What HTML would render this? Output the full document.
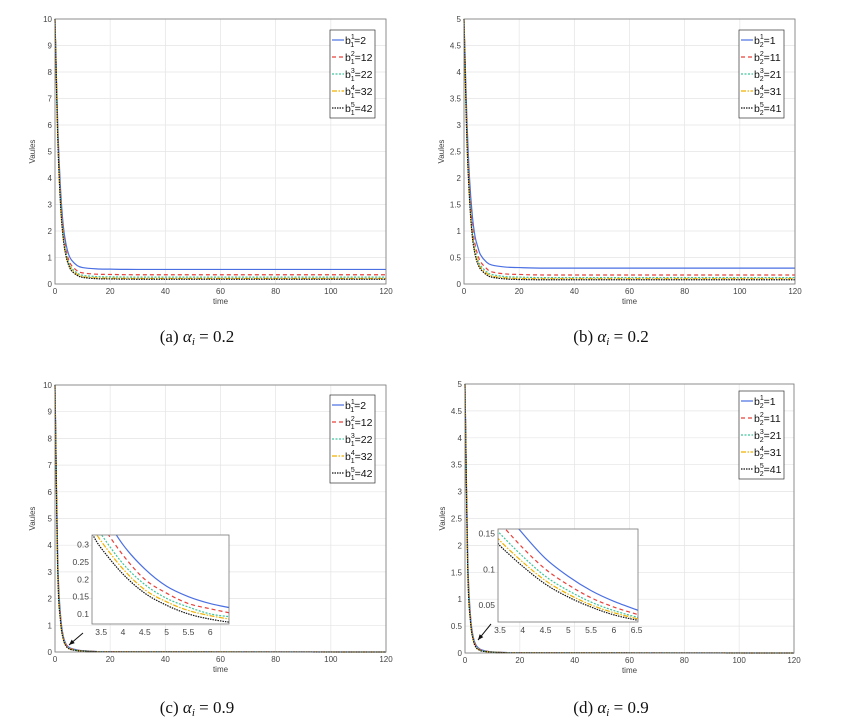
<!DOCTYPE html>
<html><head><meta charset="utf-8"><style>
body{margin:0;background:#fff;}
svg{display:block;font-family:"Liberation Sans",sans-serif;}
.cap{font-family:"Liberation Serif",serif;font-size:17px;}
</style></head><body>
<svg id="fig" width="851" height="724" viewBox="0 0 851 724"></svg>
<script>
const tA=[0,1,2,3,4,5,6,8,10,15,20,30,60,120];
const aBlue=[10,6,3.6,2.2,1.5,1.1,0.9,0.7,0.62,0.57,0.56,0.55,0.55,0.55];
const aRed=[10,5.8,3.3,2.0,1.3,0.9,0.7,0.5,0.42,0.37,0.36,0.35,0.35,0.35];
const aGreen=[10,5.7,3.2,1.9,1.2,0.8,0.6,0.42,0.33,0.28,0.27,0.26,0.26,0.26];
const aYellow=[10,5.6,3.1,1.8,1.1,0.75,0.55,0.37,0.28,0.23,0.22,0.21,0.21,0.21];
const aBlack=[10,5.5,3.0,1.7,1.05,0.7,0.5,0.33,0.25,0.2,0.19,0.18,0.18,0.18];
const bBlue=[5,3.2,2,1.3,0.9,0.7,0.55,0.42,0.36,0.32,0.31,0.3,0.3,0.3];
const bRed=[5,3.0,1.8,1.1,0.75,0.55,0.42,0.3,0.23,0.19,0.18,0.17,0.17,0.17];
const bGreen=[5,2.9,1.7,1.0,0.65,0.46,0.35,0.24,0.18,0.14,0.13,0.12,0.12,0.12];
const bYellow=[5,2.85,1.65,0.95,0.6,0.42,0.31,0.21,0.15,0.115,0.105,0.1,0.1,0.1];
const bBlack=[5,2.8,1.6,0.9,0.56,0.38,0.28,0.18,0.13,0.095,0.085,0.08,0.08,0.08];
const tC=[0,1,2,3,4,5,6,8,10,15,20,120];
const cBlue=[10,3.5,1.4,0.6,0.3,0.18,0.13,0.08,0.05,0.02,0.01,0];
const cRed=[10,3.3,1.3,0.55,0.27,0.16,0.115,0.07,0.045,0.018,0.009,0];
const cGreen=[10,3.2,1.25,0.52,0.25,0.145,0.1,0.06,0.04,0.015,0.008,0];
const cYellow=[10,3.1,1.2,0.5,0.24,0.135,0.095,0.055,0.036,0.014,0.007,0];
const cBlack=[10,3.0,1.15,0.48,0.22,0.125,0.085,0.05,0.033,0.013,0.006,0];
const dBlue=[5,1.8,0.7,0.3,0.15,0.09,0.06,0.035,0.02,0.01,0.005,0];
const dRed=[5,1.7,0.65,0.28,0.13,0.078,0.047,0.03,0.018,0.008,0.004,0];
const dGreen=[5,1.65,0.62,0.26,0.118,0.07,0.042,0.027,0.016,0.007,0.004,0];
const dYellow=[5,1.6,0.6,0.25,0.11,0.065,0.039,0.025,0.015,0.007,0.003,0];
const dBlack=[5,1.55,0.58,0.24,0.104,0.061,0.036,0.023,0.014,0.006,0.003,0];
const tIc=[3.3,3.5,4,4.5,5,5.5,6,6.45];
const icBlue=[0.45,0.40,0.30,0.23,0.18,0.15,0.13,0.118];
const icRed=[0.40,0.36,0.27,0.20,0.16,0.13,0.115,0.103];
const icGreen=[0.37,0.33,0.245,0.185,0.145,0.12,0.10,0.092];
const icYellow=[0.35,0.31,0.23,0.17,0.135,0.11,0.095,0.085];
const icBlack=[0.33,0.29,0.215,0.16,0.125,0.10,0.085,0.076];
const tId=[3.45,3.5,4,4.5,5,5.5,6,6.55];
const idBlue=[0.2,0.19,0.15,0.115,0.09,0.07,0.055,0.042];
const idRed=[0.17,0.165,0.13,0.1,0.078,0.06,0.047,0.036];
const idGreen=[0.155,0.15,0.118,0.09,0.07,0.054,0.042,0.032];
const idYellow=[0.147,0.14,0.11,0.084,0.065,0.05,0.039,0.03];
const idBlack=[0.14,0.133,0.104,0.079,0.061,0.047,0.036,0.028];
const xTicks=[0,20,40,60,80,100,120];
const yTicks10=[0,1,2,3,4,5,6,7,8,9,10];
const yTicks5=[0,0.5,1,1.5,2,2.5,3,3.5,4,4.5,5];
const legA=["2","12","22","32","42"];
const legB=["1","11","21","31","41"];
const styles=[{c:"#4a6fe3",d:""},{c:"#e8403a",d:"4,3"},{c:"#3fc59a",d:"2,1.5"},{c:"#f0b000",d:"5,1.5,1.5,1.5"},{c:"#111",d:"1.5,1"}];
const NS="http://www.w3.org/2000/svg";
const svg=document.getElementById('fig');
function el(tag,attrs,parent){const e=document.createElementNS(NS,tag);for(const k in attrs)e.setAttribute(k,attrs[k]);(parent||svg).appendChild(e);return e;}
function txt(x,y,s,attrs,parent){const e=el('text',Object.assign({x:x,y:y,'font-size':8,fill:'#444'},attrs||{}),parent);e.textContent=s;return e;}
function smooth(pts){let d='M'+pts[0][0].toFixed(2)+','+pts[0][1].toFixed(2);
  for(let i=0;i<pts.length-1;i++){const p0=pts[i-1]||pts[i],p1=pts[i],p2=pts[i+1],p3=pts[i+2]||p2;
    let c1y=p1[1]+(p2[1]-p0[1])/6,c2y=p2[1]-(p3[1]-p1[1])/6;
    const lo=Math.min(p1[1],p2[1]),hi=Math.max(p1[1],p2[1]);
    c1y=Math.max(lo,Math.min(hi,c1y));c2y=Math.max(lo,Math.min(hi,c2y));
    d+=` C${(p1[0]+(p2[0]-p0[0])/6).toFixed(2)},${c1y.toFixed(2)} ${(p2[0]-(p3[0]-p1[0])/6).toFixed(2)},${c2y.toFixed(2)} ${p2[0].toFixed(2)},${p2[1].toFixed(2)}`;}
  return d;}

function panel(id,x0,x1,y0,y1,xmax,ymax,yT,t,series,leg,sub,legBox){
  const g=el('g',{});
  
  
  const sx=v=>x0+(v/xmax)*(x1-x0), sy=v=>y0-(v/ymax)*(y0-y1);
  el('rect',{x:x0,y:y1,width:x1-x0,height:y0-y1,fill:'#fff'},g);
  xTicks.forEach(v=>{const l=el('line',{x1:sx(v),x2:sx(v),y1:y1,y2:y0,stroke:'#e4e4e4','stroke-width':0.7},g);
    const tl=txt(sx(v),y0+10,String(v),{'text-anchor':'middle'},g);});
  yT.forEach(v=>{const l=el('line',{x1:x0,x2:x1,y1:sy(v),y2:sy(v),stroke:'#e4e4e4','stroke-width':0.7},g);
    const tl=txt(x0-3,sy(v)+3,String(v),{'text-anchor':'end'},g);});
  series.forEach((s,i)=>{const p=el('path',{d:smooth(t.map((tv,j)=>[sx(tv),sy(s[j])])),fill:'none',stroke:styles[i].c,'stroke-width':1.2,'stroke-dasharray':styles[i].d},g);
    });
  const fr=el('rect',{x:x0,y:y1,width:x1-x0,height:y0-y1,fill:'none',stroke:'#777','stroke-width':0.8},g);
  
  const xl=txt((x0+x1)/2,y0+20,'time',{'text-anchor':'middle'},g);
  const yl=txt(0,0,'Vaules',{'text-anchor':'middle',transform:`translate(${x0-20},${(y0+y1)/2}) rotate(-90)`},g);
  const lg=el('g',{},g);
  el('rect',{x:legBox[0],y:legBox[1],width:45,height:88,fill:'#fff',stroke:'#333','stroke-width':0.7},lg);
  leg.forEach((L,i)=>{const yy=legBox[1]+10+i*17;
    const e=el('g',{},lg);
    el('line',{x1:legBox[0]+2,x2:legBox[0]+14,y1:yy,y2:yy,stroke:styles[i].c,'stroke-width':1.2,'stroke-dasharray':styles[i].d},e);
    const tt=el('text',{x:legBox[0]+15,y:yy+4,'font-size':10.5,fill:'#111'},e);
    tt.innerHTML=`b<tspan font-size="7" dy="-5">${i+1}</tspan><tspan font-size="7" dx="-4" dy="8">${sub}</tspan><tspan dy="-3">=${L}</tspan>`;});
  return {sx,sy,g};
}
function inset(id,x0,x1,ytop,ybot,xmin,xmax,ymin,ymax,t,series,xt,yt){
  const g=el('g',{});
  const sx=v=>x0+(v-xmin)/(xmax-xmin)*(x1-x0), sy=v=>ybot-(v-ymin)/(ymax-ymin)*(ybot-ytop);
  el('rect',{x:x0,y:ytop,width:x1-x0,height:ybot-ytop,fill:'#fff'},g);
  const cid='clip'+id;const cp=el('clipPath',{id:cid},g);el('rect',{x:x0,y:ytop,width:x1-x0,height:ybot-ytop},cp);
  const sg=el('g',{'clip-path':`url(#${cid})`},g);
  series.forEach((s,i)=>{const p=el('path',{d:smooth(t.map((tv,j)=>[sx(tv),sy(s[j])])),fill:'none',stroke:styles[i].c,'stroke-width':1.2,'stroke-dasharray':styles[i].d},sg);
    });
  el('rect',{x:x0,y:ytop,width:x1-x0,height:ybot-ytop,fill:'none',stroke:'#777','stroke-width':0.8},g);
  xt.forEach(v=>{const tl=txt(sx(v),ybot+11,String(v),{'text-anchor':'middle','font-size':8.5},g);});
  yt.forEach(v=>{const tl=txt(x0-3,sy(v)+3,String(v),{'text-anchor':'end','font-size':8.5},g);});
}
function arrow(x1,y1,x2,y2){const g=el('g',{});
  el('line',{x1,y1,x2,y2,stroke:'#111','stroke-width':1},g);
  const a=Math.atan2(y2-y1,x2-x1),L=6;
  const p=[[x2,y2],[x2-L*Math.cos(a-0.4),y2-L*Math.sin(a-0.4)],[x2-L*Math.cos(a+0.4),y2-L*Math.sin(a+0.4)]];
  el('polygon',{points:p.map(q=>q.join(',')).join(' '),fill:'#111'},g);}
function caption(x,y,l,v,name){const t=el('text',{x:x,y:y,'text-anchor':'middle',class:'cap',fill:'#111'});
  
  t.innerHTML=`(${l}) <tspan font-style="italic">α</tspan><tspan font-style="italic" font-size="11" dy="3">i</tspan><tspan dy="-3"> = ${v}</tspan>`;}

panel('a',55,386,284,19,120,10,yTicks10,tA,[aBlue,aRed,aGreen,aYellow,aBlack],legA,'1',[330,30]);
panel('b',464,795,284,19,120,5,yTicks5,tA,[bBlue,bRed,bGreen,bYellow,bBlack],legB,'2',[739,30]);
panel('c',55,386,652,385,120,10,yTicks10,tC,[cBlue,cRed,cGreen,cYellow,cBlack],legA,'1',[330,395]);
panel('d',465,794,653,384,120,5,yTicks5,tC,[dBlue,dRed,dGreen,dYellow,dBlack],legB,'2',[739,391]);
inset('c',92,229,535,624,3.29,6.43,0.071,0.328,tIc,[icBlue,icRed,icGreen,icYellow,icBlack],[3.5,4,4.5,5,5.5,6],[0.1,0.15,0.2,0.25,0.3]);
inset('d',498,638,529,622,3.456,6.53,0.026,0.1565,tId,[idBlue,idRed,idGreen,idYellow,idBlack],[3.5,4,4.5,5,5.5,6,6.5],[0.05,0.1,0.15]);
arrow(83,633,69,645);
arrow(491,624,478,640);
caption(197,342,'a','0.2','caption-a');
caption(611,342,'b','0.2','caption-b');
caption(197,713,'c','0.9','caption-c');
caption(611,713,'d','0.9','caption-d');
</script>
</body></html>
